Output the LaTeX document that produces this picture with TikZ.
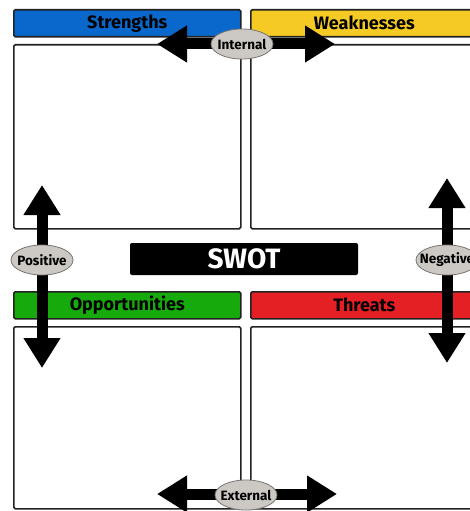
\documentclass[tikz,border=0pt]{standalone}
\usepackage{fontspec}
\usetikzlibrary{arrows.meta,shapes.geometric}
\newfontfamily\swotfont{Fira Sans}
\definecolor{sblue}{RGB}{10,104,204}
\definecolor{wyellow}{RGB}{246,202,36}
\definecolor{ogreen}{RGB}{22,170,12}
\definecolor{tred}{RGB}{228,32,36}
\definecolor{ellfill}{RGB}{204,200,196}
\definecolor{ellline}{RGB}{120,118,116}
\definecolor{edge}{RGB}{34,34,34}
\newcommand{\tagtext}[1]{\makebox[0pt][c]{#1}}
\begin{document}
\begin{tikzpicture}[x=1pt,y=-1pt,
  header/.style={draw=edge,line width=1.6pt,rounded corners=1.5pt,minimum height=27pt,minimum width=227pt,inner sep=0pt,anchor=north west,
    font=\swotfont\bfseries\fontsize{18}{18}\selectfont,text=black},
  panel/.style={draw=edge,line width=1.6pt,rounded corners=1.5pt,minimum width=227pt,anchor=north west,inner sep=0pt},
  tag/.style={ellipse,draw=ellline,line width=0.8pt,fill=ellfill,minimum width=62pt,minimum height=30pt,inner sep=0pt,
    font=\swotfont\bfseries\fontsize{13.5}{13.5}\selectfont},
  bigarrow/.style={line width=11pt,black,{Triangle[width=35pt,length=30pt]}-{Triangle[width=35pt,length=30pt]}}
]
\useasboundingbox (0,0) rectangle (470,511);
\clip (0,0) rectangle (470,511);
\fill[white] (0,0) rectangle (470,511);
% headers
\node[header,fill=sblue] (sh) at (13,9) {Strengths};
\node[header,fill=wyellow] (wh) at (250,9) {Weaknesses};
\node[header,fill=ogreen] (oh) at (13,291) {Opportunities};
\node[header,fill=tred] (th) at (250,291) {Threats};
% panels
\node[panel,minimum height=184pt] (sp) at (13,44) {};
\node[panel,minimum height=184pt] (wp) at (250,44) {};
\node[panel,minimum height=182pt] (op) at (13,326) {};
\node[panel,minimum height=182pt] (tp) at (250,326) {};
% SWOT title
\node[fill=black,rounded corners=2pt,minimum width=228pt,minimum height=32pt,inner sep=0pt,text=white,
  font=\swotfont\bfseries\fontsize{28}{28}\selectfont] (swot) at (244,259) {SWOT};
% arrow ends
\coordinate (inL) at (157,44);
\coordinate (inR) at (335,44);
\coordinate (poT) at (42,185);
\coordinate (poB) at (42,368);
\coordinate (neT) at (447,178);
\coordinate (neB) at (447,363);
\coordinate (exL) at (157,494);
\coordinate (exR) at (337,494);
\draw[bigarrow] (inL) -- (inR);
\draw[bigarrow] (poT) -- (poB);
\draw[bigarrow] (neT) -- (neB);
\draw[bigarrow] (exL) -- (exR);
% labels
\node[tag] (internal) at (242,44) {\tagtext{Internal}};
\node[tag] (positive) at (42,260) {\tagtext{Positive}};
\node[tag] (negative) at (447,260) {\tagtext{Negative}};
\node[tag] (external) at (246,495) {\tagtext{External}};
\end{tikzpicture}
\end{document}
